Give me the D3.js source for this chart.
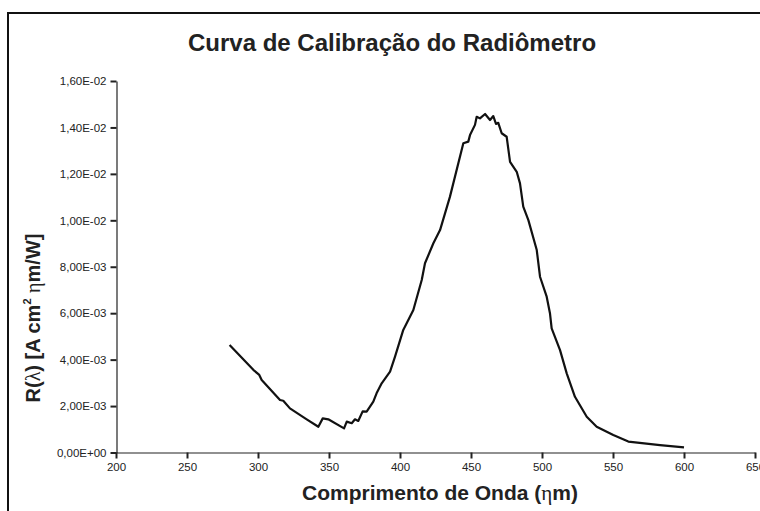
<!DOCTYPE html>
<html lang="pt">
<head>
    <meta charset="UTF-8">
    <title>Curva de Calibração do Radiômetro</title>
    <script src="https://d3js.org/d3.v7.min.js"></script>
    <style>
        body { margin: 0; background: #fff; }
        svg { display: block; font-family: "Liberation Sans", Arial, sans-serif; }
        .axis path { stroke: #222; stroke-width: 1.2; }
        .axis line { stroke: #222; stroke-width: 2; }
        .axis text { font-size: 11.5px; fill: #222; }
    </style>
</head>
<body>
<div id="chart"></div>
<script>
    // wavelength (nm) and responsivity R(lambda)
    const wavelength = [280, 296.7, 300.9, 302.6, 315.5, 317.8, 322.5, 334.3, 342.5, 345.6, 349.5,
        360.6, 362.5, 366, 368.3, 370.6, 373.7, 376.5, 381.2, 383.5, 387.1, 393, 396.5, 402.3,
        409.4, 415.3, 417.6, 423.5, 428.2, 435.2, 444.6, 448.1, 449.3, 452.8, 454, 456.3, 459.9,
        463.4, 465.7, 467.6, 469.2, 471.6, 475.1, 477.5, 482.2, 484.5, 486.8, 490.4, 496.3, 498.6,
        503.3, 505.6, 506.8, 512.7, 517.4, 523.2, 531.5, 538.5, 550.2, 560.8, 583.1, 600];
    const response = [4.63e-3, 3.56e-3, 3.34e-3, 3.12e-3, 2.26e-3, 2.23e-3, 1.90e-3, 1.43e-3, 1.11e-3, 1.47e-3, 1.43e-3,
        1.04e-3, 1.33e-3, 1.26e-3, 1.43e-3, 1.36e-3, 1.77e-3, 1.76e-3, 2.19e-3, 2.55e-3, 2.98e-3, 3.48e-3, 4.13e-3, 5.28e-3,
        6.14e-3, 7.43e-3, 8.15e-3, 9.01e-3, 9.58e-3, 1.102e-2, 1.332e-2, 1.339e-2, 1.367e-2, 1.411e-2, 1.446e-2, 1.439e-2, 1.458e-2,
        1.432e-2, 1.449e-2, 1.415e-2, 1.420e-2, 1.375e-2, 1.360e-2, 1.252e-2, 1.209e-2, 1.159e-2, 1.059e-2, 1.001e-2, 8.72e-3, 7.57e-3,
        6.71e-3, 6.00e-3, 5.35e-3, 4.41e-3, 3.41e-3, 2.40e-3, 1.54e-3, 1.11e-3, 7.5e-4, 4.7e-4, 3.2e-4, 2.2e-4];

    const xTicks = [200, 250, 300, 350, 400, 450, 500, 550, 600, 650];
    const yTicks = [0, 0.002, 0.004, 0.006, 0.008, 0.010, 0.012, 0.014, 0.016];
    const yTickLabels = ["0,00E+00", "2,00E-03", "4,00E-03", "6,00E-03", "8,00E-03",
        "1,00E-02", "1,20E-02", "1,40E-02", "1,60E-02"];

    const W = 760, H = 511;
    const svg = d3.select("#chart").append("svg")
        .attr("width", W)
        .attr("height", H);

    // outer frame (cut off on right and bottom in the original)
    svg.append("rect")
        .attr("x", 8).attr("y", 13)
        .attr("width", 780).attr("height", 520)
        .attr("fill", "none")
        .attr("stroke", "#111")
        .attr("stroke-width", 2);

    const x = d3.scaleLinear().domain([200, 650]).range([116, 755]);
    const y = d3.scaleLinear().domain([0, 0.016]).range([452.5, 81]);

    svg.append("g")
        .attr("class", "axis")
        .attr("transform", "translate(0,452.5)")
        .call(d3.axisBottom(x).tickValues(xTicks).tickSize(6).tickSizeOuter(0).tickPadding(4));

    svg.append("g")
        .attr("class", "axis")
        .attr("transform", "translate(116.5,0)")
        .call(d3.axisLeft(y).tickValues(yTicks).tickSize(6).tickSizeOuter(0).tickPadding(4)
            .tickFormat((d, i) => yTickLabels[i]));

    const pts = wavelength.map((w, i) => [w, response[i]]);
    svg.append("path")
        .datum(pts)
        .attr("fill", "none")
        .attr("stroke", "#111")
        .attr("stroke-width", 2.2)
        .attr("stroke-linejoin", "round")
        .attr("d", d3.line().x(d => x(d[0])).y(d => y(d[1])));

    // title
    svg.append("text")
        .attr("x", 392).attr("y", 51)
        .attr("text-anchor", "middle")
        .attr("font-size", 24)
        .attr("font-weight", "bold")
        .attr("fill", "#222")
        .text("Curva de Calibração do Radiômetro");

    // x axis title
    const xt = svg.append("text")
        .attr("x", 440).attr("y", 500)
        .attr("text-anchor", "middle")
        .attr("font-size", 21)
        .attr("font-weight", "bold")
        .attr("fill", "#222");
    xt.append("tspan").text("Comprimento de Onda (");
    xt.append("tspan").attr("font-family", "Liberation Serif").attr("font-weight", "normal").text("η");
    xt.append("tspan").text("m)");

    // y axis title
    const yt = svg.append("text")
        .attr("transform", "translate(40,318) rotate(-90)")
        .attr("text-anchor", "middle")
        .attr("font-size", 20)
        .attr("font-weight", "bold")
        .attr("fill", "#222");
    yt.append("tspan").text("R(");
    yt.append("tspan").attr("font-family", "Liberation Serif").attr("font-weight", "normal").text("λ");
    yt.append("tspan").text(") [A cm");
    yt.append("tspan").attr("font-size", 11).attr("dy", -9).text("2");
    yt.append("tspan").attr("dy", 9).text(" ");
    yt.append("tspan").attr("font-family", "Liberation Serif").attr("font-weight", "normal").text("η");
    yt.append("tspan").text("m/W]");
</script>
</body>
</html>
